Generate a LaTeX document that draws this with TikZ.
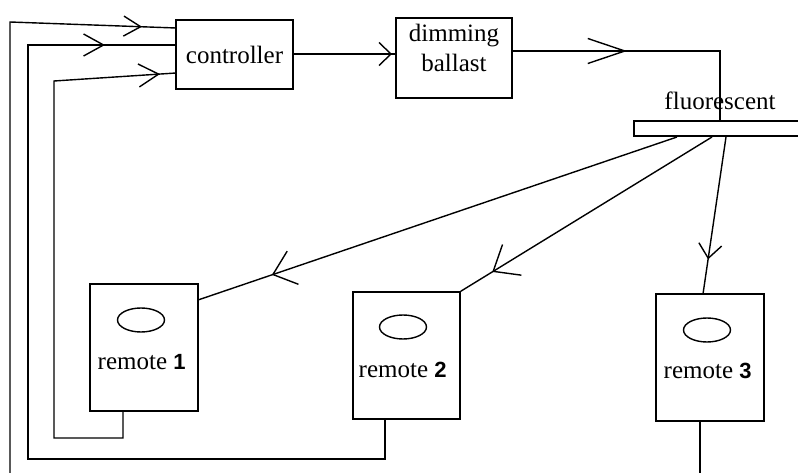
\documentclass[tikz,border=0pt]{standalone}
\usepackage{fontspec}
\setmainfont{Liberation Serif}
\newfontfamily\numfont{Liberation Sans}
\usetikzlibrary{arrows.meta,decorations.markings,shapes.geometric}
\begin{document}
\begin{tikzpicture}[x=1pt,y=-1pt,line width=1.4pt,
  box/.style={draw,rectangle,inner sep=0pt},
  txt/.style={font=\fontsize{25}{30}\selectfont,inner sep=0pt},
  oval/.style={draw,ellipse,minimum width=47pt,minimum height=24pt,inner sep=0pt},
  chev/.style n args={3}{postaction={decorate,decoration={markings,
     mark=at position #1 with {\arrow{Straight Barb[length=#2,width=#3]}}}}},
  num/.style={},
]
\useasboundingbox (0,0) rectangle (798,473);
\clip (0,0) rectangle (798,473);

% boxes
\node[box,txt,minimum width=117pt,minimum height=69pt] (ctrl) at (234.5,54.5) {controller};
\node[box,minimum width=116pt,minimum height=80pt] (ballast) at (454,58) {};
\node[txt,align=center,anchor=north] (ballastlbl) at ([yshift=-6pt]ballast.north) {dimming\\ballast};
\node[txt,anchor=base] (flabel) at (720,110) {fluorescent};
\node[box,minimum width=180pt,minimum height=15pt] (lamp) at (724,128.5) {};

\node[box,minimum width=108pt,minimum height=127pt] (r1) at (144,347.5) {};
\node[box,minimum width=107pt,minimum height=127pt] (r2) at (406.5,355.5) {};
\node[box,minimum width=108pt,minimum height=127pt] (r3) at (710,357.5) {};
\node[oval] (e1) at (141,320) {};
\node[oval] (e2) at (403,327) {};
\node[oval] (e3) at (707,330) {};
\node[txt,anchor=base west] (t1) at (97,369) {remote {\numfont\bfseries\fontsize{22}{26}\selectfont 1}};
\node[txt,anchor=base west] (t2) at (358,377) {remote {\numfont\bfseries\fontsize{22}{26}\selectfont 2}};
\node[txt,anchor=base west] (t3) at (663,378) {remote {\numfont\bfseries\fontsize{22}{26}\selectfont 3}};

% coordinates
\coordinate (o1b) at (10,473);
\coordinate (o1t) at (10,22);
\coordinate (c1) at (176,28);
\coordinate (r2b) at (385,419);
\coordinate (o2a) at (385,459);
\coordinate (o2b) at (28,459);
\coordinate (o2t) at (28,45);
\coordinate (c2) at (176,45);
\coordinate (r1b) at (123,411);
\coordinate (o3a) at (123,438);
\coordinate (o3b) at (54,438);
\coordinate (o3t) at (54,81);
\coordinate (c3) at (176,73);
\coordinate (r3b) at (700,421);
\coordinate (r3e) at (700,473);
\coordinate (ce) at (293,54);
\coordinate (bw) at (396,54);
\coordinate (be) at (512,51);
\coordinate (bk) at (720,51);
\coordinate (lt) at (720,121);
\coordinate (l1) at (677,137);
\coordinate (l2) at (712,137);
\coordinate (l3) at (726,137);
\coordinate (r1e) at (198,300);
\coordinate (r3t) at (703,294);

% feedback lines
\draw[chev={-34pt}{17pt}{20pt}] (o1b) -- (o1t) -- (c1);
\draw[chev={-71pt}{20pt}{22pt}] (r2b) -- (o2a) -- (o2b) -- (o2t) -- (c2);
\draw[chev={-16pt}{20pt}{23pt}] (r1b) -- (o3a) -- (o3b) -- (o3t) -- (c3);
\draw (r3b) -- (r3e);

% forward chain
\draw[chev={-4pt}{12pt}{23pt}] (ce) -- (bw);
\draw[chev={115pt}{37pt}{25pt}] (be) -- (bk) -- (lt);

% lamp to remotes
\draw[chev={-78pt}{21pt}{35pt}] (l1) -- (r1e);
\draw[chev={-37pt}{22pt}{36pt}] (l2) -- (r2.north east);
\draw[chev={-35pt}{14pt}{23pt}] (l3) -- (r3t);
\end{tikzpicture}
\end{document}
